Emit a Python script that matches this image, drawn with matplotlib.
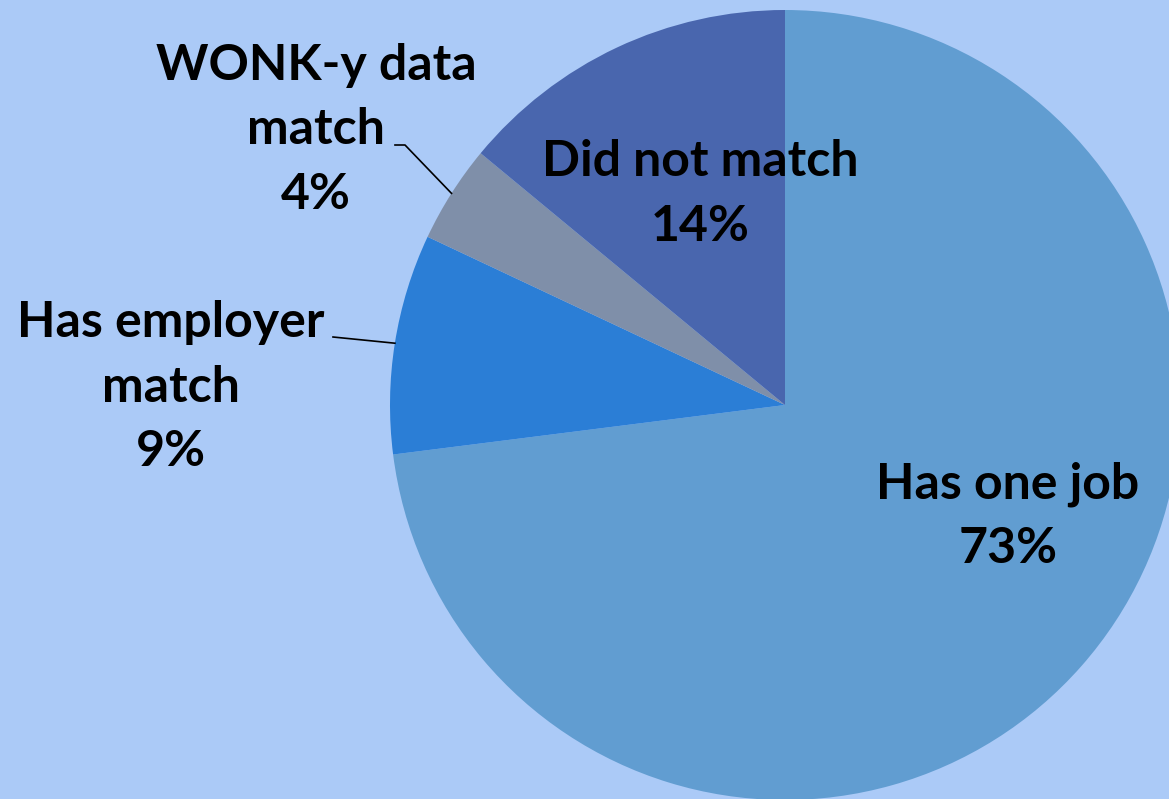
import numpy as np
import matplotlib.pyplot as plt

labels = ['Has one job', 'Has employer\nmatch', 'WONK-y data\nmatch', 'Did not match']
shares = [73, 9, 4, 14]
colors = ['#619DD1', '#2B7ED6', '#7F8FA9', '#4966AE']
bg = '#ABCAF7'

plt.rcParams['font.family'] = ['Lato', 'DejaVu Sans']

fig = plt.figure(figsize=(11.69, 7.99), dpi=100, facecolor=bg)
ax = fig.add_axes([0, 0, 1, 1])
ax.set_facecolor(bg)

center = (785, 394)
radius = 395
wedges, _ = ax.pie(shares, colors=colors, startangle=90, counterclock=False,
                   center=center, radius=radius, frame=True)
ax.set_xlim(0, 1169)
ax.set_ylim(0, 799)
ax.set_aspect('equal')
ax.axis('off')

# label anchor positions (text centres, y up)
text_pos = [(1008, 283), (171, 412), (316, 669), (700, 605)]
font = dict(fontsize=36, fontweight='bold', ha='center', va='center',
            linespacing=1.52)
for w, lab, val, (tx, ty) in zip(wedges, labels, shares, text_pos):
    ax.text(tx, ty, f'{lab}\n{val}%', **font)

# leader lines for the two small slices
def edge_point(w):
    mid = np.deg2rad((w.theta1 + w.theta2) / 2)
    return center[0] + radius * np.cos(mid), center[1] + radius * np.sin(mid)

x, y = edge_point(wedges[1])
ax.plot([333, x], [462, y], color='black', lw=1.2)
x, y = edge_point(wedges[2])
ax.plot([395, 405, x], [654, 654, y], color='black', lw=1.2)

fig.savefig('out.png', dpi=100, facecolor=bg)
